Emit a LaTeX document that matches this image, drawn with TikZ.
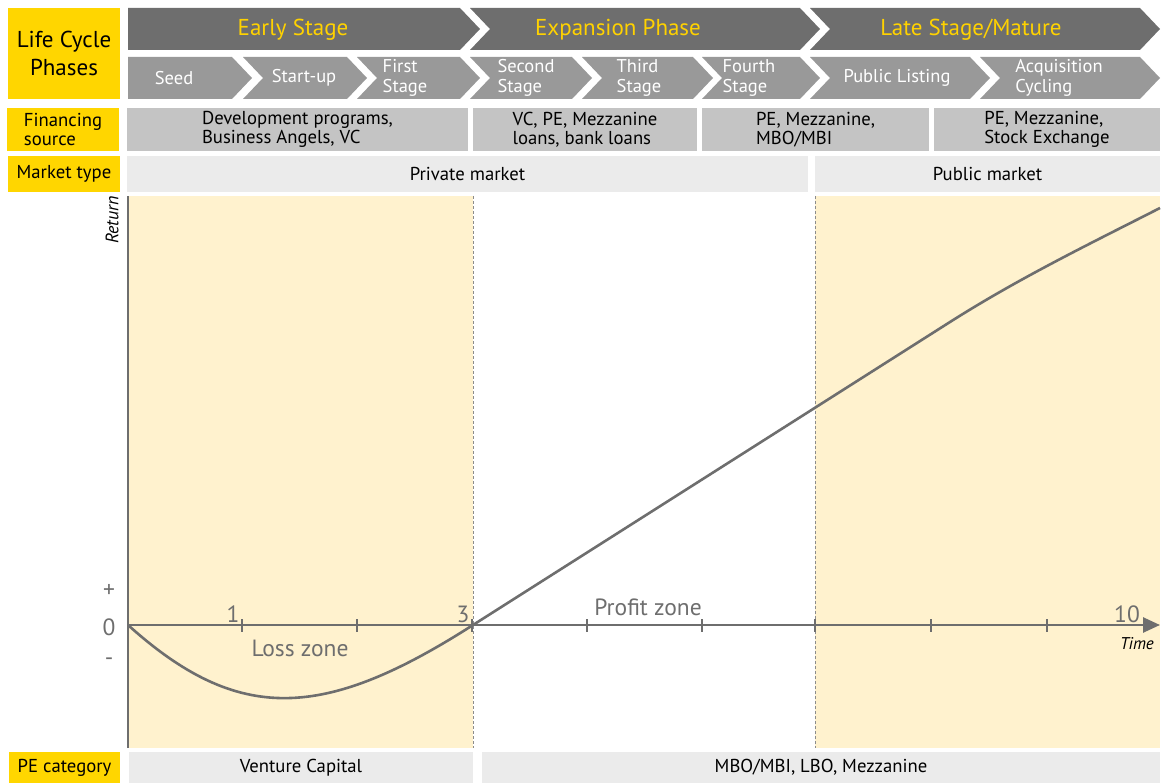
\documentclass[tikz,border=0pt]{standalone}
\usepackage{fontspec}
\setmainfont{PT Sans}
\usetikzlibrary{arrows.meta}

\definecolor{eyyellow}{RGB}{255,214,0}
\definecolor{phasetext}{RGB}{255,210,0}
\definecolor{phasegray}{RGB}{110,110,110}
\definecolor{stagegray}{RGB}{153,153,153}
\definecolor{fingray}{RGB}{196,196,196}
\definecolor{mktgray}{RGB}{235,235,235}
\definecolor{zonefill}{RGB}{255,242,206}
\definecolor{axisgray}{RGB}{110,110,110}

\tikzset{
  labelbox/.style={fill=eyyellow,inner sep=0pt,outer sep=0pt,minimum width=112pt,font=\fontsize{18.7}{18.5}\selectfont},
  finbox/.style={fill=fingray,inner sep=0pt,outer sep=0pt,minimum height=43pt,align=left,font=\fontsize{18.7}{18.5}\selectfont},
  mktbox/.style={fill=mktgray,inner sep=0pt,outer sep=0pt,font=\fontsize{18.7}{18.5}\selectfont},
  phasetxt/.style={text=phasetext,font=\fontsize{23}{24}\selectfont},
  stagetxt/.style={text=white,align=left,font=\fontsize{18.5}{20}\selectfont},
  axistxt/.style={text=axisgray,font=\fontsize{23.5}{24}\selectfont},
  zoneline/.style={draw=black!45,line width=1pt,dash pattern=on 3pt off 2pt}
}

\begin{document}
\begin{tikzpicture}[x=1pt,y=-1pt,>=latex]
    \useasboundingbox (0,0) rectangle (1163,783);

    % Phases (chevrons)
    \foreach \l/\r/\d in {128/460/0,470/800/20,810/1140/20}
      \fill[phasegray] (\l,8) -- (\r,8) -- (\r+20,29) -- (\r,50) -- (\l,50) -- (\l+\d,29) -- cycle;
    \foreach \l/\r/\d in {128/232/0,243/347/20,357/460/20,470/572/20,582/693/20,702/800/20,810/970/20,980/1140/20}
      \fill[stagegray] (\l,57) -- (\r,57) -- (\r+20,78) -- (\r,99) -- (\l,99) -- (\l+\d,78) -- cycle;

    \node[phasetxt] (early) at (293,30) {Early Stage};
    \node[phasetxt] (expansion) at (618,30) {Expansion Phase};
    \node[phasetxt] (late) at (971,30) {Late Stage/Mature};

    \node[stagetxt] (seed) at (174,78) {Seed};
    \node[stagetxt] (startup) at (304,78) {Start-up};
    \node[stagetxt] (first) at (405,78) {First\\Stage};
    \node[stagetxt] (second) at (526,78) {Second\\Stage};
    \node[stagetxt] (third) at (639,78) {Third\\Stage};
    \node[stagetxt] (fourth) at (749,78) {Fourth\\Stage};
    \node[stagetxt] (listing) at (897,78) {Public Listing};
    \node[stagetxt] (acquisition) at (1059,78) {Acquisition\\Cycling};

    % Row labels
    \node[labelbox,minimum height=91pt,align=center,font=\fontsize{23}{28}\selectfont] (lcp) at (64,53.5) {Life Cycle\\Phases};
    \node[labelbox,minimum height=43pt,align=left] (fin) at (63,129.5) {Financing\\source};
    \node[labelbox,minimum height=36pt] (mkt) at (64,174) {Market type};
    \node[labelbox,minimum height=31pt,minimum width=111pt] (pecat) at (64.5,767.5) {PE category};

    % Financing source
    \node[finbox,minimum width=341pt] (fin1) at (297.5,129.5) {Development programs,\\Business Angels, VC};
    \node[finbox,minimum width=224pt] (fin2) at (585,129.5) {VC, PE, Mezzanine\\loans, bank loans};
    \node[finbox,minimum width=227pt] (fin3) at (815.5,129.5) {PE, Mezzanine,\\MBO/MBI};
    \node[finbox,minimum width=226pt] (fin4) at (1047,129.5) {PE, Mezzanine,\\Stock Exchange};

    % Market type
    \node[mktbox,minimum width=681pt,minimum height=36pt] (private) at (467.5,174) {Private market};
    \node[mktbox,minimum width=345pt,minimum height=36pt] (public) at (987.5,174) {Public market};

    % PE category
    \node[mktbox,minimum width=344pt,minimum height=31pt] (vc) at (301,767.5) {Venture Capital};
    \node[mktbox,minimum width=678pt,minimum height=31pt] (mbo) at (821,767.5) {MBO/MBI, LBO, Mezzanine};

    % Zones
    \fill[zonefill] (128,196) rectangle (473,748);
    \fill[zonefill] (815,196) rectangle (1160,748);
    \draw[zoneline] (473,196) -- (473,748);
    \draw[zoneline] (815,196) -- (815,748);

    % Axes
    \coordinate (O) at (128,625);
    \coordinate (ytop) at (128,196);
    \coordinate (ybot) at (128,748);
    \coordinate (xend) at (1160,625);
    \draw[axisgray,line width=2.6pt] (ybot) -- (ytop);
    \draw[axisgray,line width=2.6pt,-{Triangle[length=17pt,width=15pt]}] (O) -- (xend);
    \foreach \x in {242,357,472,587,702,815,931,1047}
      \draw[axisgray,line width=1.3pt] (\x,619) -- (\x,632);

    \node[rotate=90,font=\fontsize{18}{18}\selectfont\itshape] (ret) at (112,220) {Return};
    \node[font=\fontsize{17}{17}\selectfont\itshape] (time) at (1137,644) {Time};

    \node[axistxt] (plus) at (109,591) {+};
    \node[axistxt] (zero) at (109,627) {0};
    \node[axistxt] (minus) at (109,662) {-};
    \node[axistxt] (t1) at (233,614) {1};
    \node[axistxt] (t3) at (463,614) {3};
    \node[axistxt] (t10) at (1127,614) {10};

    % Return curve
    \draw[axisgray,line width=2.6pt] (O) .. controls (238,724) and (323,721) .. (473,625)
      -- (950,322) .. controls (1020,277.6) and (1090,243.7) .. (1160,208);

    \node[axistxt] (loss) at (300,648) {Loss zone};
    \node[axistxt] (profit) at (648,607) {Profit zone};

\end{tikzpicture}
\end{document}
